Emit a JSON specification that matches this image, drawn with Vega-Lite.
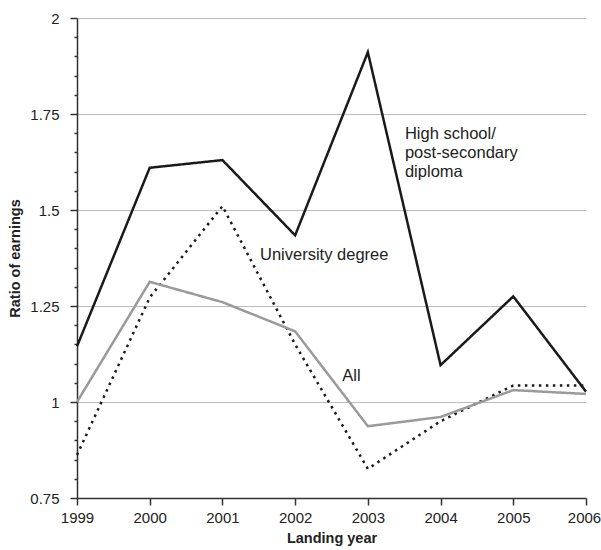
{
  "$schema": "https://vega.github.io/schema/vega-lite/v6.json",
  "width": 509,
  "height": 480,
  "autosize": "none",
  "padding": {"left": 77, "top": 18, "right": 15, "bottom": 52},
  "background": "white",
  "config": {
    "view": {"stroke": null},
    "font": "Liberation Sans"
  },
  "datasets": {
    "series": [
      {"year": 1999, "series": "High school", "ratio": 1.145},
      {"year": 2000, "series": "High school", "ratio": 1.61},
      {"year": 2001, "series": "High school", "ratio": 1.63},
      {"year": 2002, "series": "High school", "ratio": 1.434},
      {"year": 2003, "series": "High school", "ratio": 1.911},
      {"year": 2004, "series": "High school", "ratio": 1.096},
      {"year": 2005, "series": "High school", "ratio": 1.275},
      {"year": 2006, "series": "High school", "ratio": 1.027},
      {"year": 1999, "series": "University", "ratio": 0.862},
      {"year": 2000, "series": "University", "ratio": 1.272},
      {"year": 2001, "series": "University", "ratio": 1.51},
      {"year": 2002, "series": "University", "ratio": 1.15},
      {"year": 2003, "series": "University", "ratio": 0.826},
      {"year": 2004, "series": "University", "ratio": 0.95},
      {"year": 2005, "series": "University", "ratio": 1.043},
      {"year": 2006, "series": "University", "ratio": 1.043},
      {"year": 1999, "series": "All", "ratio": 1.0},
      {"year": 2000, "series": "All", "ratio": 1.313},
      {"year": 2001, "series": "All", "ratio": 1.26},
      {"year": 2002, "series": "All", "ratio": 1.184},
      {"year": 2003, "series": "All", "ratio": 0.937},
      {"year": 2004, "series": "All", "ratio": 0.961},
      {"year": 2005, "series": "All", "ratio": 1.031},
      {"year": 2006, "series": "All", "ratio": 1.021}
    ],
    "labels": [
      {"year": 2003.51, "ratio": 1.684, "label": ["High school/", "post-secondary", "diploma"]},
      {"year": 2001.517, "ratio": 1.369, "label": ["University degree"]},
      {"year": 2002.649, "ratio": 1.054, "label": ["All"]}
    ]
  },
  "layer": [
    {
      "data": {"name": "series"},
      "mark": {"type": "line", "strokeWidth": 2.5, "strokeCap": "butt", "strokeJoin": "miter"},
      "encoding": {
        "x": {
          "field": "year", "type": "quantitative",
          "scale": {"domain": [1999, 2006], "nice": false, "zero": false},
          "axis": {
            "values": [1999, 2000, 2001, 2002, 2003, 2004, 2005, 2006],
            "tickCount": 100,
            "format": "d",
            "title": "Landing year",
            "titleFont": "Liberation Sans",
            "titleFontSize": 14.5,
            "titleFontWeight": "bold",
            "titleColor": "#222222",
            "titlePadding": 6,
            "labelFont": "Liberation Sans",
            "labelFontSize": 15,
            "labelColor": "#222222",
            "labelPadding": 5,
            "labelFlush": false,
            "labelOverlap": false,
            "labelOffset": {"condition": {"test": "datum.value == 2006", "value": -2}, "value": 0},
            "tickSize": 7,
            "tickColor": "#333333",
            "tickWidth": 1.5,
            "domainColor": "#333333",
            "domainWidth": 1.5,
            "grid": false
          }
        },
        "y": {
          "field": "ratio", "type": "quantitative",
          "scale": {"domain": [0.75, 2], "nice": false, "zero": false},
          "axis": {
            "values": [0.75, 0.8, 0.85, 0.9, 0.95, 1, 1.05, 1.1, 1.15, 1.2, 1.25, 1.3, 1.35, 1.4, 1.45, 1.5, 1.55, 1.6, 1.65, 1.7, 1.75, 1.8, 1.85, 1.9, 1.95, 2],
            "tickCount": 100,
            "labelExpr": "(datum.value == 0.75 || datum.value == 1 || datum.value == 1.25 || datum.value == 1.5 || datum.value == 1.75 || datum.value == 2) ? toString(datum.value) : ''",
            "labelOverlap": false,
            "title": "Ratio of earnings",
            "titleFont": "Liberation Sans",
            "titleFontSize": 14.5,
            "titleFontWeight": "bold",
            "titleColor": "#222222",
            "titlePadding": 7,
            "labelFont": "Liberation Sans",
            "labelFontSize": 15,
            "labelColor": "#222222",
            "labelPadding": 11,
            "labelFlush": false,
            "tickSize": {"condition": {"test": "datum.value == 0.75 || datum.value == 1 || datum.value == 1.25 || datum.value == 1.5 || datum.value == 1.75 || datum.value == 2", "value": 7}, "value": 3},
            "tickColor": "#333333",
            "tickWidth": 1.5,
            "domainColor": "#333333",
            "domainWidth": 1.5,
            "grid": true,
            "gridColor": "#bdbdbd",
            "gridWidth": 1.2,
            "gridOpacity": {"condition": {"test": "datum.value == 1 || datum.value == 1.25 || datum.value == 1.5 || datum.value == 1.75 || datum.value == 2", "value": 1}, "value": 0}
          }
        },
        "color": {
          "field": "series", "type": "nominal",
          "scale": {"domain": ["High school", "University", "All"], "range": ["#1a1a1a", "#1a1a1a", "#9a9a9a"]},
          "legend": null
        },
        "strokeDash": {
          "field": "series", "type": "nominal",
          "scale": {"domain": ["High school", "University", "All"], "range": [[1, 0], [2.5, 4.5], [1, 0]]},
          "legend": null
        },
        "order": {"field": "year"}
      }
    },
    {
      "data": {"name": "labels"},
      "mark": {"type": "text", "align": "left", "baseline": "alphabetic", "font": "Liberation Sans", "fontSize": 16.5, "lineHeight": 19, "color": "#222222"},
      "encoding": {
        "x": {"field": "year", "type": "quantitative"},
        "y": {"field": "ratio", "type": "quantitative"},
        "text": {"field": "label"}
      }
    }
  ]
}
